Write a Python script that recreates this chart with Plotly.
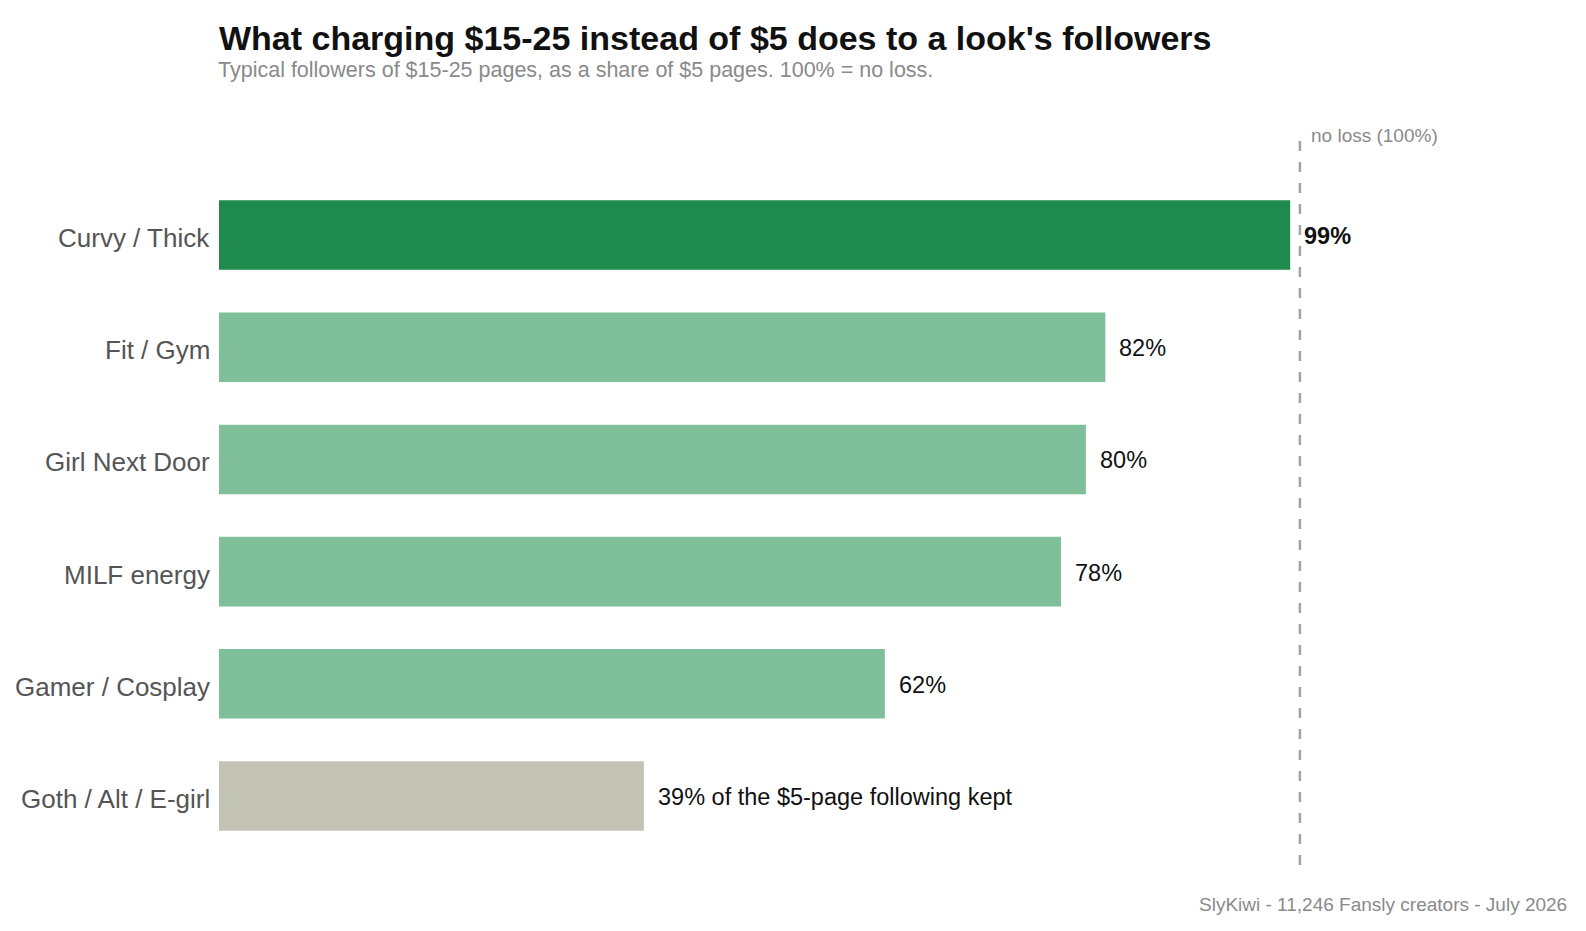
import plotly.graph_objects as go

categories = ["Curvy / Thick", "Fit / Gym", "Girl Next Door", "MILF energy", "Gamer / Cosplay", "Goth / Alt / E-girl"]
values = [99.1, 82, 80.2, 77.9, 61.6, 39.3]
value_labels = ["<b>99%</b>", "82%", "80%", "78%", "62%", "39% of the $5-page following kept"]
bar_colors = ["#1f8a4d", "#7fc09a", "#7fc09a", "#7fc09a", "#7fc09a", "#c2c2b5"]

FONT = "Liberation Sans, Arial, Helvetica, sans-serif"

cats_b = categories[::-1]
vals_b = values[::-1]
labs_b = value_labels[::-1]
cols_b = bar_colors[::-1]

fig = go.Figure()
fig.add_trace(go.Bar(
    x=vals_b, y=cats_b, orientation="h",
    marker=dict(color=cols_b, line=dict(width=0)),
    width=0.62, hoverinfo="skip",
))

for v, c, t in zip(vals_b, cats_b, labs_b):
    fig.add_annotation(x=v, y=c, text=t, showarrow=False, xanchor="left", yanchor="middle",
                       xshift=12, yshift=-1, font=dict(family=FONT, size=23.5, color="#111111"))

for c in cats_b:
    fig.add_annotation(x=0, xref="paper", y=c, yref="y", text=c, showarrow=False,
                       xanchor="right", yanchor="middle", xshift=-7, yshift=-3,
                       font=dict(family=FONT, size=26, color="#555555"))

fig.add_shape(type="line", x0=100, x1=100, xref="x", yref="paper", y0=0, y1=1,
              line=dict(color="#a3a3a3", width=2.5, dash="10px,11px"))
fig.add_annotation(x=100, y=0.9925, xref="x", yref="paper", text="no loss (100%)", showarrow=False,
                   xanchor="left", yanchor="middle", xshift=9,
                   font=dict(family=FONT, size=19, color="#8a8a8a"))

fig.add_annotation(xref="paper", yref="paper", x=1.1354, y=-0.0535, text="SlyKiwi - 11,246 Fansly creators - July 2026",
                   showarrow=False, xanchor="right", yanchor="middle",
                   font=dict(family=FONT, size=19, color="#8a8a8a"))

fig.add_annotation(xref="paper", yref="paper", x=0, xshift=-3, y=(865 - 70) / 735,
                   text="Typical followers of $15-25 pages, as a share of $5 pages. 100% = no loss.",
                   showarrow=False, xanchor="left", yanchor="middle",
                   font=dict(family=FONT, size=21.5, color="#8a8a8a"))

fig.update_layout(
    width=1586, height=931,
    margin=dict(l=219, r=178, t=130, b=66),
    paper_bgcolor="white", plot_bgcolor="white",
    showlegend=False,
    title=dict(text="<b>What charging $15-25 instead of $5 does to a look's followers</b>",
               xref="paper", x=0, xanchor="left", yref="container", y=1 - 38 / 931, yanchor="middle",
               font=dict(family=FONT, size=34, color="#111111")),
    xaxis=dict(range=[0, 110], visible=False, fixedrange=True),
    yaxis=dict(range=[-0.615, 5.936], showgrid=False, zeroline=False, showline=False, ticks="",
               showticklabels=False, fixedrange=True),
)

fig.write_html("out.html")
